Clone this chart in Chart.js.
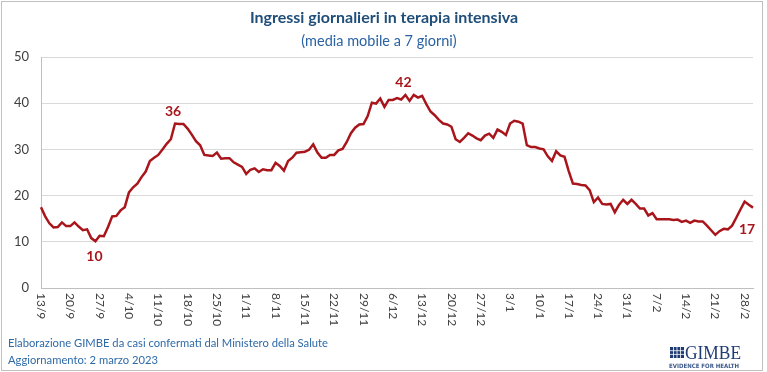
<!DOCTYPE html>
<html lang="it">
<head>
<meta charset="utf-8">
<title>Ingressi giornalieri in terapia intensiva</title>
<script src="https://cdn.jsdelivr.net/npm/chart.js@4.4.1/dist/chart.umd.min.js"></script>
<style>
    html, body { margin: 0; padding: 0; background: #fff; }
    canvas { display: block; }
</style>
</head>
<body>
<canvas id="graficoIngressi" width="767" height="372"></canvas>
<script>
// Dati: media mobile a 7 giorni, dal 13/9/2022 al 2/3/2023
const inizio = new Date(2022, 8, 13);
const numeroGiorni = 171;

const ingressi = [
    17.5, 15.5, 14.0, 13.1, 13.2, 14.2, 13.4,
    13.4, 14.2, 13.3, 12.5, 12.7, 10.8, 10.1,
    11.3, 11.2, 13.2, 15.5, 15.6, 16.8, 17.5,
    20.7, 21.8, 22.6, 24.0, 25.2, 27.5, 28.2,
    28.8, 30.0, 31.2, 32.2, 35.6, 35.5, 35.5,
    34.5, 33.2, 31.8, 30.9, 28.8, 28.7, 28.6,
    29.3, 28.0, 28.1, 28.1, 27.2, 26.7, 26.2,
    24.7, 25.6, 25.9, 25.1, 25.7, 25.5, 25.5,
    27.1, 26.4, 25.4, 27.5, 28.2, 29.3, 29.4,
    29.5, 29.9, 31.1, 29.3, 28.2, 28.2, 28.8,
    28.8, 29.8, 30.1, 31.6, 33.5, 34.7, 35.4,
    35.5, 37.2, 40.1, 39.9, 41.0, 39.2, 40.7,
    40.7, 41.1, 40.8, 41.8, 40.5, 41.8, 41.2,
    41.6, 39.8, 38.2, 37.4, 36.4, 35.6, 35.4,
    34.9, 32.2, 31.6, 32.5, 33.5, 33.0, 32.4,
    32.0, 33.0, 33.4, 32.5, 34.3, 33.8, 33.1,
    35.6, 36.2, 36.0, 35.6, 30.9, 30.5, 30.5,
    30.2, 30.0, 28.5, 27.5, 29.6, 28.7, 28.4,
    25.3, 22.6, 22.5, 22.3, 22.2, 21.2, 18.6,
    19.6, 18.2, 18.1, 18.2, 16.4, 18.0, 19.1,
    18.2, 19.1, 18.2, 17.2, 17.2, 15.7, 16.2,
    14.9, 14.9, 14.9, 14.9, 14.7, 14.8, 14.3,
    14.6, 14.1, 14.6, 14.4, 14.4, 13.5, 12.5,
    11.5, 12.3, 12.8, 12.7, 13.5, 15.2, 17.0,
    18.7, 18.0, 17.4
];

const etichetteAsseX = [
    '13/9', '20/9', '27/9', '4/10', '11/10', '18/10', '25/10', '1/11', '8/11',
    '15/11', '22/11', '29/11', '6/12', '13/12', '20/12', '27/12', '3/1', '10/1',
    '17/1', '24/1', '31/1', '7/2', '14/2', '21/2', '28/2'
];
const valoriAsseY = [0, 10, 20, 30, 40, 50];

// giorni con il valore scritto sul grafico
const giorniEvidenziati = ['26/9', '15/10', '9/12', '2/3'];
const posizioneEtichetta = ['sotto', 'sopra', 'sopra', 'fine'];

const titolo = 'Ingressi giornalieri in terapia intensiva';
const sottotitolo = '(media mobile a 7 giorni)';
const fonte = 'Elaborazione GIMBE da casi confermati dal Ministero della Salute';
const aggiornamento = 'Aggiornamento: 2 marzo 2023';

const giorni = [];
for (let i = 0; i < numeroGiorni; i++) {
    const d = new Date(inizio.getFullYear(), inizio.getMonth(), inizio.getDate() + i);
    giorni.push(`${d.getDate()}/${d.getMonth() + 1}`);
}

const rosso = '#a8161c';

const decorazioni = {
    id: 'decorazioni',
    afterDraw(chart) {
        const { ctx, scales: { x, y } } = chart;
        ctx.save();

        // cornice
        ctx.strokeStyle = '#c0c0c0';
        ctx.lineWidth = 1;
        ctx.strokeRect(1.5, 1.5, 761, 369);

        // titoli
        ctx.textAlign = 'center';
        ctx.textBaseline = 'middle';
        ctx.fillStyle = '#1f4e79';
        ctx.font = 'bold 16px Lato';
        ctx.fillText(titolo, 384, 18);
        ctx.fillStyle = '#2a62a3';
        ctx.font = '14.5px Lato';
        ctx.fillText(sottotitolo, 379, 41);

        // etichette asse x, verticali
        ctx.fillStyle = '#404040';
        ctx.font = '12px Lato';
        etichetteAsseX.forEach(lbl => {
            const px = x.getPixelForValue(giorni.indexOf(lbl));
            ctx.save();
            ctx.translate(px, y.bottom + 5);
            ctx.rotate(Math.PI / 2);
            ctx.textAlign = 'left';
            ctx.textBaseline = 'middle';
            ctx.fillText(lbl, 0, 0);
            ctx.restore();
        });

        // valori evidenziati
        ctx.fillStyle = rosso;
        ctx.font = 'bold 14px Lato';
        ctx.textAlign = 'center';
        ctx.textBaseline = 'middle';
        giorniEvidenziati.forEach((g, k) => {
            const i = giorni.indexOf(g);
            const px = x.getPixelForValue(i);
            const py = y.getPixelForValue(ingressi[i]);
            const testo = String(Math.round(ingressi[i]));
            if (posizioneEtichetta[k] === 'sotto') ctx.fillText(testo, px - 1, py + 15);
            else if (posizioneEtichetta[k] === 'sopra') ctx.fillText(testo, px - 2, py - 12);
            else ctx.fillText(testo, px - 6, py + 22);
        });

        // fonte
        ctx.textAlign = 'left';
        ctx.fillStyle = '#2e6aa8';
        ctx.font = '12px Lato';
        ctx.fillText(fonte, 8, 343, 320);
        ctx.fillText(aggiornamento, 8, 360, 150);

        // logo GIMBE
        ctx.fillStyle = '#1f3b73';
        ctx.fillRect(670, 347, 14, 11);
        ctx.strokeStyle = '#ffffff';
        ctx.lineWidth = 0.8;
        for (let c = 1; c < 4; c++) {
            ctx.beginPath();
            ctx.moveTo(670 + c * 3.5, 347);
            ctx.lineTo(670 + c * 3.5, 358);
            ctx.stroke();
        }
        for (let r = 1; r < 3; r++) {
            ctx.beginPath();
            ctx.moveTo(670, 347 + r * 3.7);
            ctx.lineTo(684, 347 + r * 3.7);
            ctx.stroke();
        }
        ctx.fillStyle = '#1f3b73';
        ctx.font = '18px "Liberation Serif"';
        ctx.textBaseline = 'alphabetic';
        ctx.fillText('GIMBE', 685, 359, 56);
        ctx.font = 'bold 6px "DejaVu Sans"';
        ctx.fillStyle = '#3d5a8a';
        ctx.fillText('EVIDENCE FOR HEALTH', 669, 368, 70);

        ctx.restore();
    }
};

new Chart(document.getElementById('graficoIngressi'), {
    type: 'line',
    data: {
        labels: giorni,
        datasets: [{
            data: ingressi,
            borderColor: rosso,
            borderWidth: 2.5,
            pointRadius: 0,
            tension: 0,
            fill: false
        }]
    },
    options: {
        responsive: false,
        animation: false,
        layout: { padding: { top: 57, right: 14, bottom: 0, left: 0 } },
        plugins: {
            legend: { display: false },
            tooltip: { enabled: false }
        },
        scales: {
            x: {
                type: 'category',
                offset: false,
                ticks: { display: false },
                grid: { display: false },
                border: { display: true, color: '#bfbfbf' },
                afterFit(scale) { scale.height = 84; }
            },
            y: {
                min: valoriAsseY[0],
                max: valoriAsseY[valoriAsseY.length - 1],
                afterBuildTicks(scale) { scale.ticks = valoriAsseY.map(v => ({ value: v })); },
                ticks: { color: '#404040', font: { family: 'Lato', size: 13 }, padding: 12 },
                grid: { color: '#d9d9d9', drawTicks: false },
                border: { display: true, color: '#bfbfbf' },
                afterFit(scale) { scale.width = 41; }
            }
        }
    },
    plugins: [decorazioni]
});
</script>
</body>
</html>
